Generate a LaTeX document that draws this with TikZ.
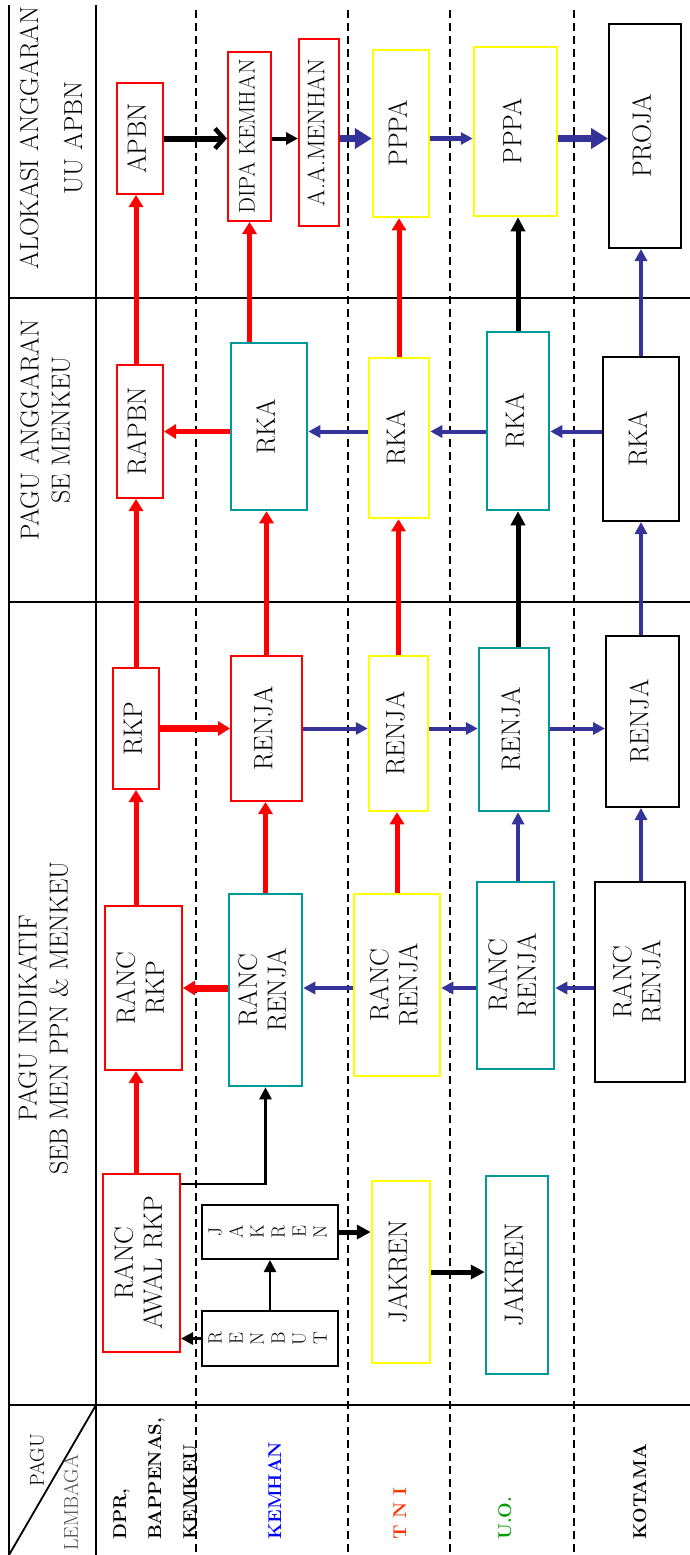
\documentclass[tikz,border=0pt]{standalone}
\usepackage{fontspec}
\usepackage{graphicx}
\usetikzlibrary{calc}
\usetikzlibrary{arrows.meta}
\definecolor{boxred}{RGB}{255,0,0}
\definecolor{boxteal}{RGB}{0,153,153}
\definecolor{boxyellow}{RGB}{255,255,0}
\definecolor{flowblue}{RGB}{51,51,153}
\definecolor{kemhanblue}{RGB}{0,0,255}
\definecolor{tnired}{RGB}{255,51,0}
\definecolor{uogreen}{RGB}{0,153,0}
\newcommand{\vtext}[2][c]{\rotatebox{90}{\begin{tabular}{@{}#1@{}}#2\end{tabular}}}
\tikzset{
  box/.style={draw, fill=white, line width=2pt, inner sep=0pt, font=\fontsize{26.5}{29}\selectfont},
  redbox/.style={box, draw=boxred},
  tealbox/.style={box, draw=boxteal, line width=2.5pt},
  yellowbox/.style={box, draw=boxyellow, line width=2.5pt},
  blackbox/.style={box, draw=black},
  headtext/.style={inner sep=0pt, font=\fontsize{26}{31}\selectfont},
  rowlabel/.style={inner sep=0pt, anchor=south, font=\fontsize{18.5}{35}\selectfont\bfseries},
  gridline/.style={line width=1.8pt},
  laneline/.style={line width=1.6pt, dash pattern=on 8pt off 5pt},
  redflow/.style={draw=boxred, line width=5pt, -{Triangle[length=12pt,width=14pt]}},
  redthick/.style={redflow, line width=7pt},
  blueflow/.style={draw=flowblue, line width=4pt, -{Triangle[length=12pt,width=12pt]}},
  bluethick/.style={draw=flowblue, line width=7pt, -{Triangle[length=17pt,width=20pt]}},
  blackflow/.style={draw=black, line width=5pt, -{Triangle[length=14pt,width=14pt]}},
  blackthin/.style={draw=black, line width=2.5pt, -{Triangle[length=12pt,width=12pt]}},
  barbflow/.style={draw=black, line width=6pt, -{Straight Barb[length=9pt,width=20pt,line width=4.5pt]}},
}

\begin{document}
\begin{tikzpicture}[x=1pt, y=-1pt]
  \useasboundingbox (0,0) rectangle (690,1555);

  % table
  \draw [gridline] (9,5) -- (9,1555);
  \draw [gridline] (96,5) -- (96,1555);
  \draw [gridline] (9,298) -- (690,298);
  \draw [gridline] (9,602) -- (690,602);
  \draw [gridline] (9,1405) -- (690,1405);
  \draw [gridline] (9,1555) -- (96,1405);
  \foreach \lx in {196,348,450,574}
    \draw [laneline] (\lx,10) -- (\lx,1555);

  % left column
  \node [headtext] (hdalokasi) at (54,138) {\vtext{ALOKASI ANGGARAN\\[13pt]UU APBN}};
  \node [headtext] (hdpagu) at (48,430) {\vtext{PAGU ANGGARAN\\SE MENKEU}};
  \node [headtext] (hdindikatif) at (46,1018) {\vtext{PAGU INDIKATIF\\SEB MEN PPN \& MENKEU}};
  \node [inner sep=0pt, font=\fontsize{20}{24}\selectfont] (hdpagutop) at (37,1460) {\rotatebox{90}{PAGU}};
  \node [inner sep=0pt, font=\fontsize{20}{24}\selectfont, text=black!70] (hdlembaga) at (71,1503) {\rotatebox{90}{LEMBAGA}};

  % row labels
  \node [rowlabel] (lbdpr) at (154,1540) {\vtext[l]{DPR,\\BAPPENAS,\\KEMKEU}};
  \node [rowlabel, text=kemhanblue] (lbkemhan) at (274,1540) {\vtext{KEMHAN}};
  \node [rowlabel, text=tnired] (lbtni) at (399,1540) {\vtext{T N I}};
  \node [rowlabel, text=uogreen] (lbuo) at (504,1540) {\vtext{U.O.}};
  \node [rowlabel] (lbkotama) at (639,1540) {\vtext{KOTAMA}};

  % alokasi anggaran
  \node [redbox, minimum width=46pt, minimum height=111pt] (apbn) at (140,138.5) {\vtext{APBN}};
  \node [redbox, minimum width=43pt, minimum height=169pt, font=\fontsize{22.5}{26}\selectfont] (dipa) at (249.5,136.5) {\vtext{DIPA KEMHAN}};
  \node [redbox, minimum width=40pt, minimum height=187pt, font=\fontsize{24}{27}\selectfont] (aamenhan) at (319,132.5) {\vtext{A.A.MENHAN}};
  \node [yellowbox, minimum width=56pt, minimum height=167pt] (pppat) at (401,133.5) {\vtext{PPPA}};
  \node [yellowbox, minimum width=83pt, minimum height=169pt] (pppau) at (515.5,131.5) {\vtext{PPPA}};
  \node [blackbox, minimum width=72pt, minimum height=224pt] (proja) at (645,136) {\vtext{PROJA}};

  % pagu anggaran
  \node [redbox, minimum width=46pt, minimum height=133pt] (rapbn) at (140,431.5) {\vtext{RAPBN}};
  \node [tealbox, minimum width=76pt, minimum height=167pt] (rkak) at (269,426.5) {\vtext{RKA}};
  \node [yellowbox, minimum width=60pt, minimum height=160pt] (rkat) at (399,438) {\vtext{RKA}};
  \node [tealbox, minimum width=62pt, minimum height=178pt] (rkau) at (518,421) {\vtext{RKA}};
  \node [blackbox, minimum width=76pt, minimum height=164pt] (rkakot) at (641,439) {\vtext{RKA}};

  % pagu indikatif
  \node [redbox, minimum width=46pt, minimum height=121pt] (rkp) at (136,728.5) {\vtext{RKP}};
  \node [redbox, minimum width=71pt, minimum height=145pt] (renjak) at (266.5,728.5) {\vtext{RENJA}};
  \node [yellowbox, minimum width=59pt, minimum height=155pt] (renjat) at (398.5,733.5) {\vtext{RENJA}};
  \node [tealbox, minimum width=70pt, minimum height=163pt] (renjau) at (514,729.5) {\vtext{RENJA}};
  \node [blackbox, minimum width=73pt, minimum height=171pt] (renjakot) at (642.5,721.5) {\vtext{RENJA}};

  \node [redbox, minimum width=77pt, minimum height=164pt] (rancrkp) at (143.5,988) {\vtext{RANC\\RKP}};
  \node [tealbox, minimum width=73pt, minimum height=192pt] (rancrenjak) at (265.5,990) {\vtext{RANC\\RENJA}};
  \node [yellowbox, minimum width=86pt, minimum height=182pt] (rancrenjat) at (397,985) {\vtext{RANC\\RENJA}};
  \node [tealbox, minimum width=77pt, minimum height=187pt] (rancrenjau) at (515.5,975.5) {\vtext{RANC\\RENJA}};
  \node [blackbox, minimum width=90pt, minimum height=200pt] (rancrenjakot) at (640,982) {\vtext{RANC\\RENJA}};

  \node [redbox, minimum width=77pt, minimum height=178pt] (rancawal) at (141.5,1263) {\vtext{RANC\\AWAL RKP}};
  \node [blackbox, minimum width=136pt, minimum height=54pt, font=\fontsize{19}{21}\selectfont] (jakrenk) at (270,1232) {\vtext{J\\A\\K\\R\\E\\N}};
  \node [blackbox, minimum width=136pt, minimum height=55pt, font=\fontsize{19}{21}\selectfont] (renbut) at (270,1338.5) {\vtext{R\\E\\N\\B\\U\\T}};
  \node [yellowbox, minimum width=58pt, minimum height=182pt] (jakrent) at (401,1272) {\vtext{JAKREN}};
  \node [tealbox, minimum width=62pt, minimum height=198pt] (jakrenu) at (517,1275) {\vtext{JAKREN}};

  % upward flow
  \draw [redflow] (rancawal.north -| rkp.south) -- (rancrkp.south -| rkp.south);
  \draw [redflow] (rancrkp.north -| rkp.south) -- (rkp.south);
  \draw [redflow] (rkp.north) -- (rkp.north |- rapbn.south);
  \draw [redflow] (rapbn.north -| rkp.north) -- (apbn.south -| rkp.north);

  \draw [redflow] (rancrenjak.north) -- (rancrenjak.north |- renjak.south);
  \draw [redflow] (renjak.north) -- (renjak.north |- rkak.south);
  \draw [redflow] (dipa.south |- rkak.north) -- (dipa.south);

  \draw [redflow] (rancrenjat.north) -- (rancrenjat.north |- renjat.south);
  \draw [redflow] (renjat.north) -- (renjat.north |- rkat.south);
  \draw [redflow] (rkat.north) -- (rkat.north |- pppat.south);

  \draw [blueflow] (rancrenjau.north -| rkau.north) -- (renjau.south -| rkau.north);
  \draw [blackflow] (renjau.north -| rkau.north) -- (rkau.south);
  \draw [blackflow] (rkau.north) -- (rkau.north |- pppau.south);

  \draw [blueflow] (rancrenjakot.north -| rkakot.north) -- (renjakot.south -| rkakot.north);
  \draw [blueflow] (renjakot.north -| rkakot.north) -- (rkakot.south);
  \draw [blueflow] (rkakot.north) -- (rkakot.north |- proja.south);

  % sideways flow
  \draw [barbflow] (apbn.east) -- (apbn.east -| dipa.west);
  \draw [blackthin, line width=4pt] (dipa.east |- apbn.east) -- (apbn.east -| aamenhan.west);
  \draw [bluethick] (aamenhan.east |- apbn.east) -- (apbn.east -| pppat.west);
  \draw [blueflow, line width=5pt] (pppat.east |- apbn.east) -- (apbn.east -| pppau.west);
  \draw [bluethick] (pppau.east |- apbn.east) -- (apbn.east -| proja.west);

  \draw [redflow] (rkak.west |- rapbn.east) -- (rapbn.east);
  \draw [blueflow] (rkat.west |- rapbn.east) -- (rkak.east |- rapbn.east);
  \draw [blueflow] (rkau.west |- rapbn.east) -- (rkat.east |- rapbn.east);
  \draw [blueflow] (rkakot.west |- rapbn.east) -- (rkau.east |- rapbn.east);

  \draw [redthick] (rkp.east) -- (rkp.east -| renjak.west);
  \draw [blueflow] (renjak.east |- rkp.east) -- (rkp.east -| renjat.west);
  \draw [blueflow] (renjat.east |- rkp.east) -- (rkp.east -| renjau.west);
  \draw [blueflow] (renjau.east |- rkp.east) -- (rkp.east -| renjakot.west);

  \draw [redthick] (rancrenjak.west |- rancrkp.east) -- (rancrkp.east);
  \draw [blueflow] (rancrenjat.west |- rancrkp.east) -- (rancrenjak.east |- rancrkp.east);
  \draw [blueflow] (rancrenjau.west |- rancrkp.east) -- (rancrenjat.east |- rancrkp.east);
  \draw [blueflow] (rancrenjakot.west |- rancrkp.east) -- (rancrenjau.east |- rancrkp.east);

  % jakren
  \draw [blackthin] ($(rancawal.north east)+(0,11)$) -| (rancrenjak.south);
  \draw [blackthin] (renbut.north) -- (jakrenk.south);
  \draw [blackthin, line width=3pt] (renbut.west) -- (renbut.west -| rancawal.east);
  \draw [blackflow] (jakrenk.east) -- (jakrenk.east -| jakrent.west);
  \draw [blackflow] (jakrent.east) -- (jakrent.east -| jakrenu.west);

\end{tikzpicture}
\end{document}
